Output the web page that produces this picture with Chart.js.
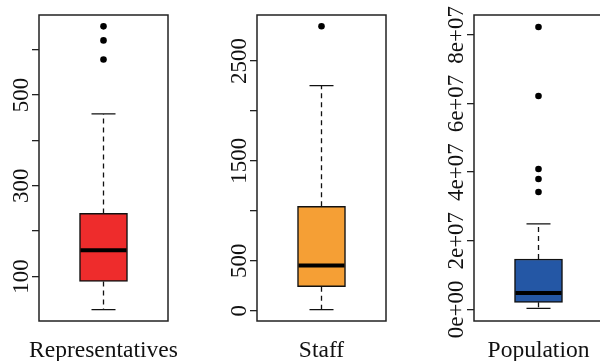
<!DOCTYPE html>
<html>
<head>
<meta charset="utf-8">
<script src="https://cdn.jsdelivr.net/npm/chart.js@4.4.0/dist/chart.umd.min.js"></script>
<style>
  html, body { margin: 0; padding: 0; background: #fff; overflow: hidden; }
  #wrap { position: relative; width: 600px; height: 361px; overflow: hidden; }
  .panel { position: absolute; top: 0; }
</style>
</head>
<body>
<div id="wrap">
  <canvas id="c0" class="panel" width="218" height="361" style="left:0px"></canvas>
  <canvas id="c1" class="panel" width="218" height="361" style="left:218px"></canvas>
  <canvas id="c2" class="panel" width="218" height="361" style="left:435px"></canvas>
</div>
<script>
const categories = ["Representatives", "Staff", "Population"];

// five number summaries: lower whisker, Q1, median, Q3, upper whisker
const repStats = [27, 89, 158, 239, 458];
const staffStats = [10, 241, 453, 1046, 2253];
const popStats = [0.3e6, 2.04e6, 4.75e6, 1.467e7, 2.49e7];

// outliers
const repOutliers = [578, 620, 651];
const staffOutliers = [2847];
const popOutliers = [3.42e7, 3.8e7, 4.09e7, 6.22e7, 8.23e7];

// y ticks (R drops some labels where they would overlap)
const repTicks = [100, 200, 300, 400, 500, 600];
const repTickLabels = ["100", "", "300", "", "500", ""];
const staffTicks = [0, 500, 1000, 1500, 2000, 2500];
const staffTickLabels = ["0", "500", "", "1500", "", "2500"];
const popTicks = [0, 2e7, 4e7, 6e7, 8e7];
const popTickLabels = ["0e+00", "2e+07", "4e+07", "6e+07", "8e+07"];

const FONT = "'Liberation Serif', 'DejaVu Serif', serif";

// whiskers, median, frame and texts drawn off the chart's scales
const boxPlugin = {
  id: "boxPlugin",
  beforeDatasetsDraw(chart) {
    const ctx = chart.ctx;
    const stats = chart.options.plugins.boxPlugin.stats;
    const y = chart.scales.y;
    const bar = chart.getDatasetMeta(0).data[0];
    const cx = bar.x;
    const cap = bar.width / 4;
    ctx.save();
    ctx.strokeStyle = "#111";
    ctx.lineWidth = 1.3;
    ctx.setLineDash([5, 4]);
    ctx.beginPath();
    ctx.moveTo(cx, y.getPixelForValue(stats[3]));
    ctx.lineTo(cx, y.getPixelForValue(stats[4]));
    ctx.moveTo(cx, y.getPixelForValue(stats[1]));
    ctx.lineTo(cx, y.getPixelForValue(stats[0]));
    ctx.stroke();
    ctx.setLineDash([]);
    ctx.beginPath();
    [stats[0], stats[4]].forEach((v) => {
      const py = y.getPixelForValue(v);
      ctx.moveTo(cx - cap, py);
      ctx.lineTo(cx + cap, py);
    });
    ctx.stroke();
    ctx.restore();
  },
  afterDatasetsDraw(chart) {
    const ctx = chart.ctx;
    const stats = chart.options.plugins.boxPlugin.stats;
    const y = chart.scales.y;
    const bar = chart.getDatasetMeta(0).data[0];
    const py = y.getPixelForValue(stats[2]);
    ctx.save();
    ctx.strokeStyle = "#000";
    ctx.lineWidth = 4;
    ctx.beginPath();
    ctx.moveTo(bar.x - bar.width / 2 + 1, py);
    ctx.lineTo(bar.x + bar.width / 2 - 1, py);
    ctx.stroke();
    ctx.restore();
  },
  afterDraw(chart) {
    const ctx = chart.ctx;
    const opts = chart.options.plugins.boxPlugin;
    const area = chart.chartArea;
    const y = chart.scales.y;
    const x = chart.scales.x;
    ctx.save();
    ctx.strokeStyle = "#222";
    ctx.lineWidth = 1.5;
    ctx.strokeRect(area.left, area.top, area.right - area.left, area.bottom - area.top);

    ctx.fillStyle = "#111";
    ctx.font = "23px " + FONT;
    ctx.textAlign = "center";
    ctx.textBaseline = "alphabetic";
    opts.ticks.forEach((v, i) => {
      const label = opts.tickLabels[i];
      if (!label) return;
      ctx.save();
      ctx.translate(area.left - 11, y.getPixelForValue(v));
      ctx.rotate(-Math.PI / 2);
      ctx.fillText(label, 0, 0);
      ctx.restore();
    });
    ctx.font = "23.5px " + FONT;
    ctx.fillText(chart.data.labels[0], x.getPixelForValue(0), 357);
    ctx.restore();
  },
};

function makePanel(id, name, stats, outliers, color, ticks, tickLabels, yMin, yMax) {
  return new Chart(document.getElementById(id), {
    type: "bar",
    data: {
      labels: [name],
      datasets: [
        {
          data: [[stats[1], stats[3]]],
          backgroundColor: color,
          borderColor: "#111",
          borderWidth: 1.5,
          borderSkipped: false,
          barThickness: 48,
        },
        {
          type: "scatter",
          data: outliers.map((v) => ({ x: name, y: v })),
          pointRadius: 3.3,
          backgroundColor: "#000",
          borderWidth: 0,
        },
      ],
    },
    options: {
      responsive: false,
      animation: false,
      events: [],
      layout: { padding: { top: 15, right: 50, bottom: 40, left: 0 } },
      plugins: {
        legend: { display: false },
        tooltip: { enabled: false },
        boxPlugin: { stats: stats, ticks: ticks, tickLabels: tickLabels },
      },
      scales: {
        x: { display: false },
        y: {
          min: yMin,
          max: yMax,
          afterBuildTicks: (scale) => {
            scale.ticks = ticks.map((v) => ({ value: v }));
          },
          afterFit: (scale) => {
            scale.width = 39;
          },
          ticks: { display: false },
          grid: {
            drawOnChartArea: false,
            drawTicks: true,
            tickLength: 7,
            color: "#222",
            lineWidth: 1.3,
          },
          border: { display: false },
        },
      },
    },
    plugins: [boxPlugin],
  });
}

makePanel("c0", categories[0], repStats, repOutliers, "#EE2C2C", repTicks, repTickLabels, 2, 676);
makePanel("c1", categories[1], staffStats, staffOutliers, "#F59F35", staffTicks, staffTickLabels, -103, 2960);
makePanel("c2", categories[2], popStats, popOutliers, "#2457A5", popTicks, popTickLabels, -3.4e6, 8.58e7);
</script>
</body>
</html>
